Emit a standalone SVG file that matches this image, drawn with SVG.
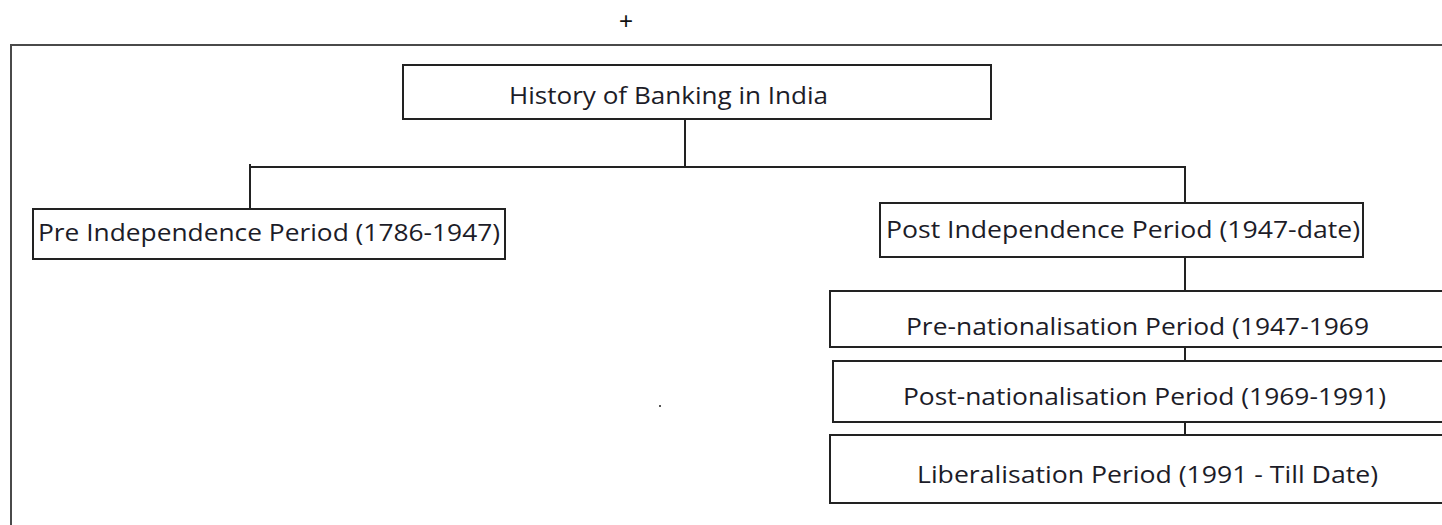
<svg xmlns="http://www.w3.org/2000/svg" width="1442" height="525" viewBox="0 0 1442 525">
  <style>
    .frame { fill: none; stroke: #4a4a4a; stroke-width: 2; }
    .box { fill: #ffffff; stroke: #222222; stroke-width: 2; }
    .lbl { font-family: "Open Sans", "Liberation Sans", sans-serif; font-size: 24px; fill: #1c1c28; }
    .conn { fill: none; stroke: #222222; stroke-width: 2; }
  </style>
  <rect width="1442" height="525" fill="#ffffff"/>
  <text x="626" y="29" text-anchor="middle" font-family="Liberation Sans, sans-serif" font-size="24" fill="#111111">+</text>
  <rect class="frame" x="11" y="45" width="1460" height="500"/>

  <g id="connectors">
    <path class="conn" d="M685,119 V167"/>
    <path class="conn" d="M249,167 H1186"/>
    <path class="conn" d="M250,164 V209"/>
    <path class="conn" d="M1185,167 V203"/>
    <path class="conn" d="M1185,257 V291"/>
    <path class="conn" d="M1185,347 V361"/>
    <path class="conn" d="M1185,422 V435"/>
  </g>

  <g id="node-history">
    <rect class="box" x="403" y="65" width="588" height="54"/>
    <text class="lbl" x="509" y="104" textLength="319" lengthAdjust="spacingAndGlyphs">History of Banking in India</text>
  </g>
  <g id="node-pre-independence">
    <rect class="box" x="33" y="209" width="472" height="50"/>
    <text class="lbl" x="38" y="241" textLength="462" lengthAdjust="spacingAndGlyphs">Pre Independence Period (1786-1947)</text>
  </g>
  <g id="node-post-independence">
    <rect class="box" x="880" y="203" width="483" height="54"/>
    <text class="lbl" x="886" y="238" textLength="474" lengthAdjust="spacingAndGlyphs">Post Independence Period (1947-date)</text>
  </g>
  <g id="node-pre-nationalisation">
    <rect class="box" x="830" y="291" width="620" height="56"/>
    <text class="lbl" x="906" y="335" textLength="463" lengthAdjust="spacingAndGlyphs">Pre-nationalisation Period (1947-1969</text>
  </g>
  <g id="node-post-nationalisation">
    <rect class="box" x="833" y="361" width="617" height="61"/>
    <text class="lbl" x="903" y="405" textLength="483" lengthAdjust="spacingAndGlyphs">Post-nationalisation Period (1969-1991)</text>
  </g>
  <g id="node-liberalisation">
    <rect class="box" x="830" y="435" width="620" height="68"/>
    <text class="lbl" x="917" y="483" textLength="461" lengthAdjust="spacingAndGlyphs">Liberalisation Period (1991 - Till Date)</text>
  </g>
  <rect x="659" y="405" width="2" height="2" fill="#555555"/>
</svg>
